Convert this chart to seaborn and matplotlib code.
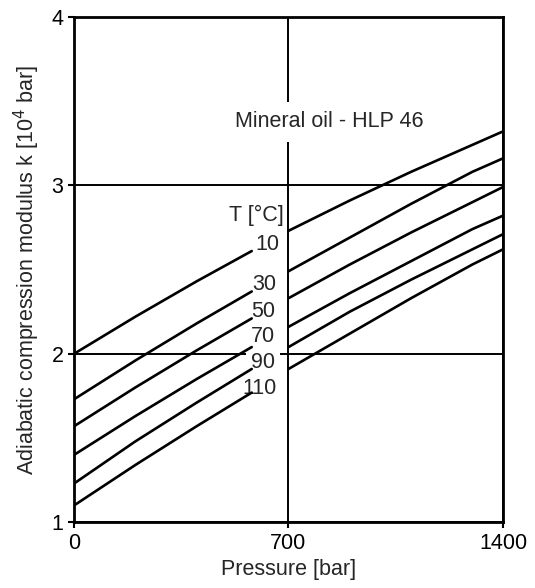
import numpy as np
import pandas as pd
import matplotlib.pyplot as plt
import seaborn as sns

pressure = [0, 200, 400, 580, 700, 900, 1100, 1300, 1400]
# adiabatic compression modulus k [10^4 bar] per oil temperature
k10 = [2.00, 2.22, 2.43, 2.61, 2.73, 2.91, 3.08, 3.24, 3.32]
k30 = [1.73, 1.96, 2.18, 2.37, 2.49, 2.69, 2.89, 3.08, 3.16]
k50 = [1.57, 1.80, 2.02, 2.21, 2.33, 2.53, 2.72, 2.90, 2.99]
k70 = [1.40, 1.63, 1.85, 2.04, 2.16, 2.36, 2.55, 2.74, 2.82]
k90 = [1.23, 1.48, 1.71, 1.91, 2.04, 2.25, 2.44, 2.62, 2.71]
k110 = [1.10, 1.34, 1.57, 1.77, 1.91, 2.12, 2.33, 2.53, 2.62]
temps = ["10", "30", "50", "70", "90", "110"]
curves = [k10, k30, k50, k70, k90, k110]

rows = []
for t, ks in zip(temps, curves):
    for p, k in zip(pressure, ks):
        seg = "a" if p < 650 else "b"   # curve is broken where the labels sit
        rows.append({"p": p, "k": k, "unit": t + seg})
df = pd.DataFrame(rows)

sns.set_theme(style="ticks")
plt.rcParams["font.family"] = ["Liberation Sans", "DejaVu Sans"]
plt.rcParams["font.size"] = 15.5

fig = plt.figure(figsize=(5.35, 5.88), dpi=100)
ax = fig.add_axes([0.1383, 0.1117, 0.8019, 0.8597])

sns.lineplot(data=df, x="p", y="k", units="unit", estimator=None,
             color="black", lw=1.9, sort=False, ax=ax, legend=False)

ax.set_xlim(0, 1400)
ax.set_ylim(1, 4)
ax.set_xticks([0, 700, 1400])
ax.set_yticks([1, 2, 3, 4])
ax.set_axisbelow(True)
ax.grid(True, color="black", lw=1.4)
for s in ax.spines.values():
    s.set_linewidth(2.0)
    s.set_color("black")
ax.tick_params(direction="out", length=4.5, width=1.5, colors="black",
               labelsize=15.5, pad=3)

ax.set_xlabel("Pressure [bar]", fontsize=15.5, labelpad=4)
ax.set_ylabel("Adiabatic compression modulus k [10$^4$ bar]", fontsize=15.5,
              labelpad=7)

# label boxes sit above the grid but below the curves
box = dict(boxstyle="square,pad=0.25", fc="white", ec="none")
label_pos = [(630, 2.648), (620, 2.41), (617, 2.249), (617, 2.10),
             (617, 1.946), (604, 1.797)]
for t, (x, y) in zip(temps, label_pos):
    ax.text(x, y, t, ha="center", va="center", fontsize=15.5, bbox=box, zorder=1)
ax.text(594, 2.824, "T [°C]", ha="center", va="center", fontsize=15.5, zorder=1)
ax.text(834, 3.376, "Mineral oil - HLP 46", ha="center", va="center",
        fontsize=15.5, zorder=1,
        bbox=dict(boxstyle="square,pad=0.45", fc="white", ec="none"))

fig.savefig("out.png", dpi=100)
